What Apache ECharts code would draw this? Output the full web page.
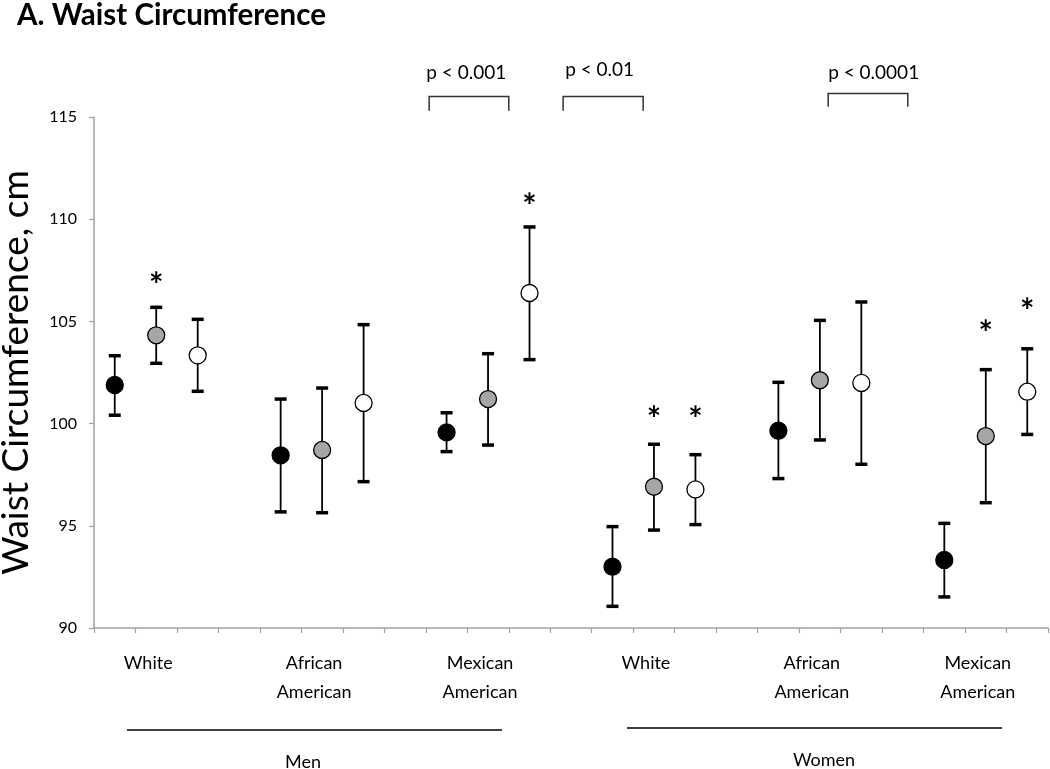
<!DOCTYPE html>
<html>
<head>
<meta charset="utf-8">
<script src="https://cdn.jsdelivr.net/npm/echarts@6/dist/echarts.min.js"></script>
<style>
html,body{margin:0;padding:0;background:#fff;}
#chart{width:1050px;height:769px;}
</style>
</head>
<body>
<div id="chart"></div>
<script>
// ---- data ----
const groupLabels = ['White', 'African\nAmerican', 'Mexican\nAmerican', 'White', 'African\nAmerican', 'Mexican\nAmerican'];
const sexLabels = ['Men', 'Women'];

const blackMean = [101.89, 98.45, 99.57, 93.00, 99.65, 93.33];
const blackLow  = [100.41, 95.68, 98.63, 91.06, 97.31, 91.52];
const blackHigh = [103.32, 101.20, 100.53, 94.96, 102.02, 95.12];

const grayMean = [104.32, 98.71, 101.20, 96.91, 102.12, 99.39];
const grayLow  = [102.95, 95.64, 98.95, 94.79, 99.20, 96.13];
const grayHigh = [105.69, 101.74, 103.42, 98.99, 105.05, 102.64];

const whiteMean = [103.34, 101.01, 106.39, 96.78, 101.99, 101.56];
const whiteLow  = [101.58, 97.16, 103.13, 95.06, 98.01, 99.47];
const whiteHigh = [105.10, 104.84, 109.62, 98.48, 105.95, 103.66];

// asterisk positions (y in cm units), null = no asterisk
const grayStar  = [107.07, null, null, 100.52, null, 104.73];
const whiteStar = [null, null, 110.94, 100.52, null, 105.80];

// p-value brackets: category-index span and heights (cm units)
const pLabels   = ['p < 0.001', 'p < 0.01', 'p < 0.0001'];
const pFrom     = [7.58, 10.81, 17.20];
const pTo       = [9.50, 12.74, 19.12];
const pTop      = [116.0, 116.0, 116.15];
const pBottom   = [115.3, 115.3, 115.5];
const pTextX    = [7.51, 10.86, 17.20];
const pTextY    = [117.15, 117.30, 117.15];

const yTicks = [90, 95, 100, 105, 110, 115];

// ---- build category axis: 6 groups x 3 slots, gap slot between groups ----
const nSlots = groupLabels.length * 4 - 1;
const categories = [];
for (let i = 0; i < nSlots; i++) {
  const g = Math.floor(i / 4), s = i % 4;
  categories.push(s === 1 ? groupLabels[g] : '\u200b' + i);
}
function slot(g, s) { return g * 4 + s; }

function meanData(arr, s) { return arr.map((v, g) => [slot(g, s), v]); }
function errData(lo, hi, s) { return lo.map((v, g) => [slot(g, s), v, hi[g]]); }
function starData(arr, s) {
  const out = [];
  arr.forEach((v, g) => { if (v != null) out.push([slot(g, s), v]); });
  return out;
}

const errRender = function (params, api) {
  const x = api.value(0);
  const lo = api.coord([x, api.value(1)]);
  const hi = api.coord([x, api.value(2)]);
  const cw = 6;
  return {
    type: 'group',
    children: [
      { type: 'line', shape: { x1: lo[0], y1: lo[1], x2: hi[0], y2: hi[1] }, style: { stroke: '#000', lineWidth: 1.8 } },
      { type: 'line', shape: { x1: lo[0] - cw, y1: lo[1], x2: lo[0] + cw, y2: lo[1] }, style: { stroke: '#000', lineWidth: 3.5 } },
      { type: 'line', shape: { x1: hi[0] - cw, y1: hi[1], x2: hi[0] + cw, y2: hi[1] }, style: { stroke: '#000', lineWidth: 3.5 } }
    ]
  };
};

function fracCoord(api, xf, y) {
  const base = Math.floor(xf);
  const c = api.coord([base, y]);
  const step = api.size([1, 0])[0];
  return [c[0] + (xf - base) * step, c[1]];
}

const starRender = function (params, api) {
  const c = api.coord([api.value(0), api.value(1)]);
  return {
    type: 'text', x: c[0], y: c[1] + 7,
    style: { text: '*', fontSize: 34, fontWeight: 'bold', fontFamily: 'Lato', fill: '#000', align: 'center', verticalAlign: 'middle' }
  };
};

const bracketData = pLabels.map((t, i) => [pFrom[i], pTo[i], pTop[i], pBottom[i], pTextX[i], pTextY[i]]);
const bracketRender = function (params, api) {
  const a = fracCoord(api, api.value(0), api.value(3));
  const b = fracCoord(api, api.value(0), api.value(2));
  const c = fracCoord(api, api.value(1), api.value(2));
  const d = fracCoord(api, api.value(1), api.value(3));
  const t = fracCoord(api, api.value(4), api.value(5));
  return {
    type: 'group',
    children: [
      { type: 'polyline', shape: { points: [a, b, c, d] }, style: { stroke: '#333', lineWidth: 1.5, fill: null } },
      { type: 'text', x: t[0], y: t[1], style: { text: pLabels[params.dataIndex], fontSize: 19, fontFamily: 'Lato', fill: '#000', align: 'left', verticalAlign: 'middle' } }
    ]
  };
};

const chart = echarts.init(document.getElementById('chart'));
const fill = ['#000000', '#a6a6a6', '#ffffff'];
const means = [blackMean, grayMean, whiteMean];
const lows = [blackLow, grayLow, whiteLow];
const highs = [blackHigh, grayHigh, whiteHigh];

const series = [];
for (let s = 0; s < 3; s++) {
  series.push({
    type: 'custom', name: 'err' + s, renderItem: errRender, data: errData(lows[s], highs[s], s),
    encode: { x: 0, y: [1, 2] }, z: 2, clip: false
  });
  series.push({
    type: 'scatter', name: 'mean' + s, data: meanData(means[s], s), symbol: 'circle', symbolSize: 17,
    itemStyle: { color: fill[s], borderColor: '#000', borderWidth: 1.3, opacity: 1 }, z: 5
  });
}
series.push({ type: 'custom', name: 'star1', renderItem: starRender, data: starData(grayStar, 1), encode: { x: 0, y: 1 }, z: 6, clip: false });
series.push({ type: 'custom', name: 'star2', renderItem: starRender, data: starData(whiteStar, 2), encode: { x: 0, y: 1 }, z: 6, clip: false });
series.push({ type: 'custom', name: 'brackets', renderItem: bracketRender, data: bracketData, encode: { x: 0, y: 2 }, z: 6, clip: false });

chart.setOption({
  animation: false,
  backgroundColor: '#fff',
  textStyle: { fontFamily: 'Lato' },
  title: {
    text: 'A. Waist Circumference', left: 17, top: 0, padding: 0,
    textStyle: { fontSize: 29.5, fontWeight: 'bold', fontFamily: 'Lato', color: '#000' }
  },
  grid: { left: 94, right: 2, top: 117, bottom: 141, containLabel: false, outerBoundsMode: 'none' },
  xAxis: {
    type: 'category', data: categories, boundaryGap: true,
    axisLine: { lineStyle: { color: '#a0a0a0', width: 1.5 } },
    axisTick: { show: true, interval: 0, alignWithLabel: false, length: 5, lineStyle: { color: '#a0a0a0', width: 1.2 } },
    axisLabel: {
      interval: 0, fontSize: 18, lineHeight: 29, color: '#000', margin: 21, fontFamily: 'Lato',
      padding: [0, 16, 0, 0],
      formatter: v => (v.charAt(0) === '\u200b' ? '' : v)
    },
    splitLine: { show: false }
  },
  yAxis: {
    type: 'value', min: yTicks[0], max: yTicks[yTicks.length - 1], interval: 5,
    name: 'Waist Circumference, cm', nameLocation: 'middle', nameRotate: 90, nameGap: 59,
    nameTextStyle: { fontSize: 37, color: '#000', fontFamily: 'Lato' },
    axisLine: { show: true, lineStyle: { color: '#a0a0a0', width: 1.5 } },
    axisTick: { show: true, length: 5, lineStyle: { color: '#a0a0a0', width: 1.2 } },
    axisLabel: { fontSize: 16, color: '#000', margin: 17, fontFamily: 'Lato' },
    splitLine: { show: false }
  },
  graphic: [
    { type: 'line', shape: { x1: 127, y1: 730, x2: 502, y2: 730 }, style: { stroke: '#000', lineWidth: 1.5 } },
    { type: 'line', shape: { x1: 627, y1: 728, x2: 1002, y2: 728 }, style: { stroke: '#000', lineWidth: 1.5 } },
    { type: 'text', x: 303, y: 762, style: { text: sexLabels[0], fontSize: 18, fontFamily: 'Lato', fill: '#000', align: 'center', verticalAlign: 'middle' } },
    { type: 'text', x: 824, y: 760, style: { text: sexLabels[1], fontSize: 18, fontFamily: 'Lato', fill: '#000', align: 'center', verticalAlign: 'middle' } }
  ],
  series: series
});
</script>
</body>
</html>
